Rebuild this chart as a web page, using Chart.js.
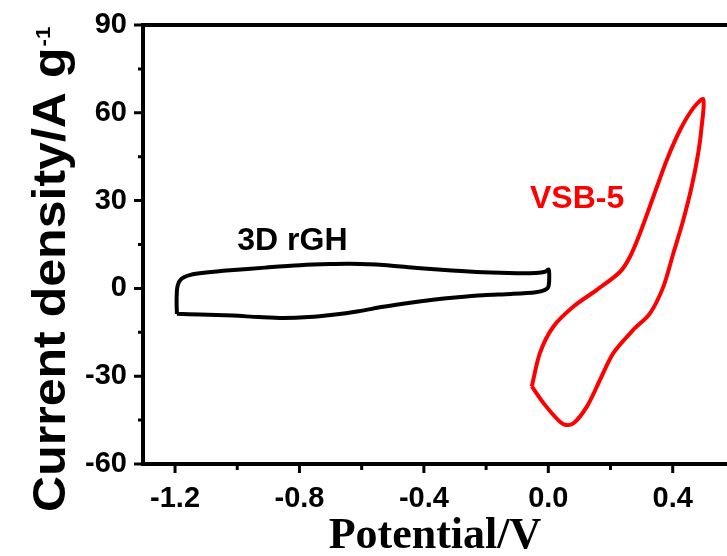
<!DOCTYPE html>
<html>
<head>
<meta charset="utf-8">
<script src="https://cdn.jsdelivr.net/npm/chart.js"></script>
<style>
  html, body { margin:0; padding:0; background:#fff; }
  #wrap { width:727px; height:556px; }
</style>
</head>
<body>
<div id="wrap"><canvas id="cv"></canvas></div>
<script>
// --- values ---
const xMajor = [-1.2, -0.8, -0.4, 0.0, 0.4];
const xMinor = [-1.0, -0.6, -0.2, 0.2];
const yMajor = [-60, -30, 0, 30, 60, 90];
const yMinor = [-45, -15, 15, 45, 75];

// 3D rGH loop: potential (V) / current density (A g-1)
const rghV = [-1.194, -1.195, -1.192, -1.180, -1.150, -1.100, -1.023, -0.911, -0.798, -0.700, -0.637, -0.530, -0.422, -0.310, -0.210, -0.100, -0.040, -0.010, 0.001, 0.003, 0.000, -0.012, -0.040, -0.120, -0.210, -0.300, -0.371, -0.450, -0.531, -0.610, -0.692, -0.770, -0.853, -0.930, -1.014, -1.120, -1.194];
const rghI = [-8.7, -4.0, 0.8, 3.2, 4.6, 5.4, 6.2, 7.1, 7.9, 8.3, 8.4, 8.0, 7.0, 6.1, 5.5, 5.2, 5.3, 5.7, 6.4, 3.5, 0.5, -0.6, -1.3, -1.9, -2.3, -3.1, -3.9, -5.0, -6.3, -7.8, -9.0, -9.8, -10.1, -9.8, -9.3, -8.9, -8.7];

// VSB-5 loop
const vsbV = [-0.053, -0.027, 0.016, 0.081, 0.156, 0.231, 0.263, 0.295, 0.338, 0.381, 0.424, 0.466, 0.498, 0.493, 0.482, 0.461, 0.434, 0.402, 0.370, 0.327, 0.273, 0.209, 0.166, 0.124, 0.081, 0.054, 0.031, -0.011, -0.053];
const vsbI = [-33.5, -22.1, -13.1, -6.2, -0.5, 5.7, 10.9, 18.9, 31.4, 43.9, 54.2, 61.6, 64.6, 55.3, 46.2, 34.8, 23.4, 12.0, 0.6, -8.5, -14.2, -22.1, -31.3, -40.4, -46.1, -46.6, -44.9, -39.8, -33.5];

const rgh = rghV.map((v, i) => ({x: v, y: rghI[i]}));
const vsb = vsbV.map((v, i) => ({x: v, y: vsbI[i]}));

const SANS = '"Liberation Sans", Arial, sans-serif';
const SERIF = '"Liberation Serif", "Times New Roman", serif';

// frame, outward ticks, y title with superscript, curve labels
const extras = {
  id: 'extras',
  afterDraw(chart) {
    const ctx = chart.ctx;
    const a = chart.chartArea;
    const sx = chart.scales.x, sy = chart.scales.y;
    ctx.save();
    ctx.strokeStyle = '#000';
    ctx.lineCap = 'square';
    ctx.lineWidth = 4;
    ctx.beginPath();
    ctx.moveTo(a.right + 4, a.top); ctx.lineTo(a.left, a.top);
    ctx.lineTo(a.left, a.bottom); ctx.lineTo(a.right + 4, a.bottom);
    ctx.stroke();

    ctx.lineCap = 'butt';
    ctx.lineWidth = 3;
    ctx.beginPath();
    xMajor.forEach(v => { const p = sx.getPixelForValue(v); ctx.moveTo(p, a.bottom); ctx.lineTo(p, a.bottom + 9); });
    xMinor.forEach(v => { const p = sx.getPixelForValue(v); ctx.moveTo(p, a.bottom); ctx.lineTo(p, a.bottom + 6); });
    yMajor.forEach(v => { const p = sy.getPixelForValue(v); ctx.moveTo(a.left, p); ctx.lineTo(a.left - 9, p); });
    yMinor.forEach(v => { const p = sy.getPixelForValue(v); ctx.moveTo(a.left, p); ctx.lineTo(a.left - 5, p); });
    ctx.stroke();

    // y title, slightly stretched along its length like the original
    ctx.fillStyle = '#000';
    ctx.translate(65, 512);
    ctx.rotate(-Math.PI / 2);
    ctx.scale(1.065, 1);
    ctx.textAlign = 'left';
    ctx.textBaseline = 'alphabetic';
    ctx.font = 'bold 47px ' + SANS;
    const main = 'Current density/A g';
    ctx.fillText(main, 0, 0);
    const w = ctx.measureText(main).width;
    ctx.font = 'bold 21px ' + SANS;
    ctx.fillText('-1', w + 1, -15);
    ctx.restore();

    // curve labels
    ctx.save();
    ctx.textAlign = 'left';
    ctx.textBaseline = 'alphabetic';
    ctx.font = 'bold 32px ' + SANS;
    ctx.fillStyle = '#000';
    ctx.fillText('3D rGH', sx.getPixelForValue(-1.0), sy.getPixelForValue(13.2));
    ctx.fillStyle = '#ff0000';
    ctx.fillText('VSB-5', sx.getPixelForValue(-0.059), sy.getPixelForValue(27.5));
    ctx.restore();
  }
};

new Chart(document.getElementById('cv'), {
  type: 'scatter',
  data: {
    datasets: [
      {label: '3D rGH', data: rgh, showLine: true, borderColor: '#000000', borderWidth: 4, pointRadius: 0, tension: 0.3, fill: false},
      {label: 'VSB-5', data: vsb, showLine: true, borderColor: '#ff0000', borderWidth: 4, pointRadius: 0, tension: 0.3, fill: false}
    ]
  },
  options: {
    responsive: true,
    maintainAspectRatio: false,
    animation: false,
    devicePixelRatio: 1,
    layout: {padding: {top: 25, right: 0, left: 0, bottom: 0}},
    plugins: {legend: {display: false}, tooltip: {enabled: false}},
    scales: {
      x: {
        type: 'linear', min: -1.303, max: 0.5745,
        grid: {display: false, drawTicks: false},
        border: {display: false},
        afterBuildTicks: s => { s.ticks = xMajor.map(v => ({value: v})); },
        afterFit: s => { s.height = 92; s.paddingLeft = 0; s.paddingRight = 0; },
        ticks: {padding: 18, color: '#000', font: {family: SANS, weight: 'bold', size: 29}, maxRotation: 0,
                callback: v => v.toFixed(1)},
        title: {display: true, text: 'Potential/V', color: '#000', font: {family: SERIF, weight: 'bold', size: 44, lineHeight: 0.88}, padding: {top: 0, bottom: 0}}
      },
      y: {
        type: 'linear', min: -60, max: 90,
        grid: {display: false, drawTicks: false},
        border: {display: false},
        afterBuildTicks: s => { s.ticks = yMajor.map(v => ({value: v})); },
        afterFit: s => { s.width = 143; s.paddingTop = 0; s.paddingBottom = 0; },
        ticks: {padding: 16, color: '#000', font: {family: SANS, weight: 'bold', size: 29},
                callback: v => String(v)}
      }
    }
  },
  plugins: [extras]
});
</script>
</body>
</html>
